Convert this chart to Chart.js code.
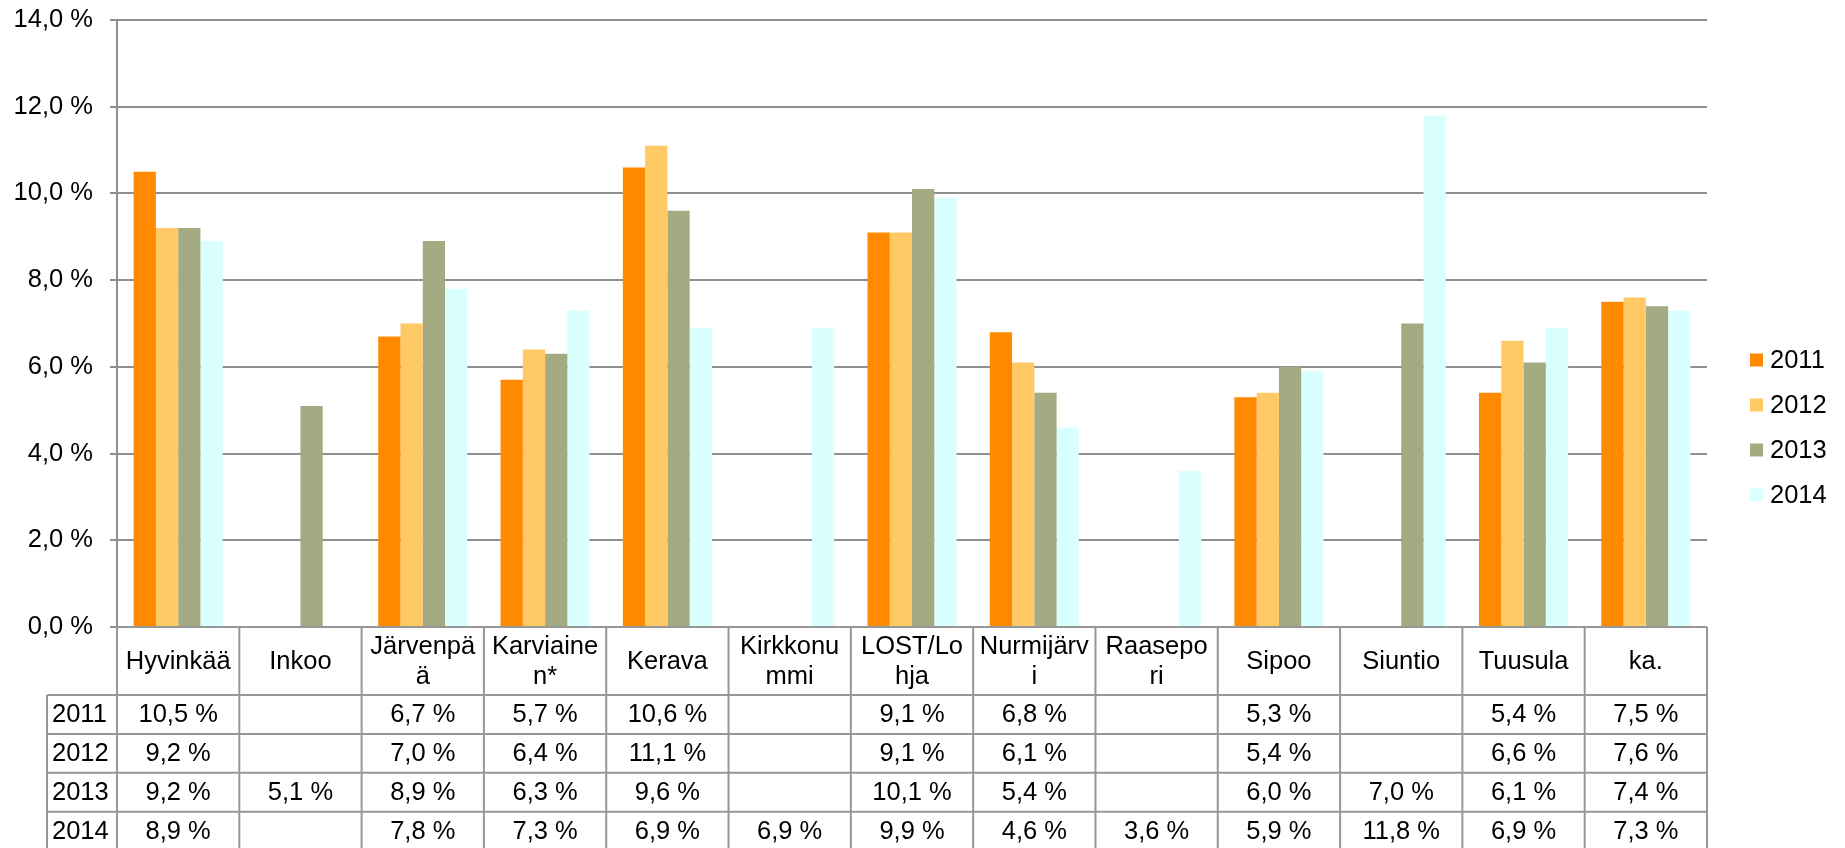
<!DOCTYPE html>
<html>
<head>
<meta charset="utf-8">
<script src="https://cdn.jsdelivr.net/npm/chart.js@4"></script>
<style>
html,body{margin:0;padding:0;background:#fff;}
#c{display:block;}
</style>
</head>
<body>
<canvas id="c" width="1845" height="848"></canvas>
<script>
const categories = ['Hyvinkää','Inkoo','Järvenpää','Karviainen*','Kerava','Kirkkonummi','LOST/Lohja','Nurmijärvi','Raasepori','Sipoo','Siuntio','Tuusula','ka.'];
const years = ['2011','2012','2013','2014'];
const values2011 = [10.5, null, 6.7, 5.7, 10.6, null, 9.1, 6.8, null, 5.3, null, 5.4, 7.5];
const values2012 = [9.2, null, 7.0, 6.4, 11.1, null, 9.1, 6.1, null, 5.4, null, 6.6, 7.6];
const values2013 = [9.2, 5.1, 8.9, 6.3, 9.6, null, 10.1, 5.4, null, 6.0, 7.0, 6.1, 7.4];
const values2014 = [8.9, null, 7.8, 7.3, 6.9, 6.9, 9.9, 4.6, 3.6, 5.9, 11.8, 6.9, 7.3];
const seriesColors = ['#FF8A00', '#FFCA66', '#A4AA82', '#D9FFFF'];

const FONT_SIZE = 25.5;
const FONT = FONT_SIZE + 'px "Liberation Sans", Arial, sans-serif';
const GRID = '#8f8f8f';
const TABLE_LINE = '#979797';

function fmt(v) { return v.toFixed(1).replace('.', ',') + ' %'; }

function wrapChars(ctx, text, maxW) {
  const lines = [];
  let cur = '';
  for (const ch of text) {
    if (cur && ctx.measureText(cur + ch).width > maxW) { lines.push(cur); cur = ch; }
    else cur += ch;
  }
  if (cur) lines.push(cur);
  return lines;
}

const tablePlugin = {
  id: 'dataTable',
  afterDraw(chart) {
    const ctx = chart.ctx;
    const area = chart.chartArea;
    const xs = chart.scales.x;
    const n = categories.length;
    const colW = area.width / n;
    const top = area.bottom;
    const headerH = 68;
    const rowH = 38.9;
    const tableLeft = 47;
    const right = area.right;
    const seriesVals = chart.data.datasets.map(d => d.data);
    const nRows = seriesVals.length;
    const bottom = top + headerH + rowH * nRows;

    ctx.save();
    ctx.strokeStyle = TABLE_LINE;
    ctx.lineWidth = 2;
    ctx.beginPath();
    ctx.moveTo(area.left, top); ctx.lineTo(right, top);
    for (let r = 0; r <= nRows; r++) {
      const y = top + headerH + r * rowH;
      ctx.moveTo(tableLeft, y); ctx.lineTo(right, y);
    }
    for (let i = 0; i <= n; i++) {
      const x = area.left + i * colW;
      ctx.moveTo(x, top); ctx.lineTo(x, bottom);
    }
    ctx.moveTo(tableLeft, top + headerH); ctx.lineTo(tableLeft, bottom);
    ctx.stroke();

    ctx.fillStyle = '#000';
    ctx.font = FONT;
    ctx.textBaseline = 'middle';
    ctx.textAlign = 'center';
    for (let i = 0; i < n; i++) {
      const cx = xs.getPixelForValue(i);
      const lines = wrapChars(ctx, categories[i], FONT_SIZE * 4.3);
      const lh = 30;
      const cy = top + headerH / 2 + 1;
      lines.forEach((ln, k) => {
        ctx.fillText(ln, cx, cy + (k - (lines.length - 1) / 2) * lh);
      });
    }
    for (let r = 0; r < nRows; r++) {
      const cy = top + headerH + r * rowH + rowH / 2 + 1;
      ctx.textAlign = 'left';
      ctx.fillText(chart.data.datasets[r].label, tableLeft + 5, cy);
      ctx.textAlign = 'center';
      for (let i = 0; i < n; i++) {
        const v = seriesVals[r][i];
        if (v === null || v === undefined) continue;
        ctx.fillText(fmt(v), xs.getPixelForValue(i), cy);
      }
    }
    const lx = 1750, ly0 = 360, lstep = 45;
    chart.data.datasets.forEach((d, k) => {
      const y = ly0 + k * lstep;
      ctx.fillStyle = d.backgroundColor;
      ctx.fillRect(lx, y - 6.5, 13, 13);
      ctx.fillStyle = '#000';
      ctx.textAlign = 'left';
      ctx.fillText(d.label, lx + 20, y + 1);
    });
    ctx.restore();
  }
};

const seriesData = [values2011, values2012, values2013, values2014];

new Chart(document.getElementById('c'), {
  type: 'bar',
  data: {
    labels: categories,
    datasets: years.map((y, k) => ({
      label: y,
      data: seriesData[k],
      backgroundColor: seriesColors[k],
      borderWidth: 0,
      categoryPercentage: 0.728,
      barPercentage: 1.0
    }))
  },
  options: {
    responsive: false,
    devicePixelRatio: 1,
    animation: false,
    layout: { padding: { left: 0, top: 20, right: 138, bottom: 0 } },
    plugins: { legend: { display: false }, tooltip: { enabled: false } },
    scales: {
      x: {
        grid: { display: false },
        border: { display: false },
        ticks: { display: false },
        afterFit(scale) { scale.height = 221; }
      },
      y: {
        min: 0, max: 14,
        ticks: {
          stepSize: 2,
          padding: 17,
          color: '#000',
          font: { family: '"Liberation Sans", Arial, sans-serif', size: FONT_SIZE, lineHeight: 0.2 },
          callback: v => fmt(v)
        },
        grid: { color: GRID, lineWidth: 2, tickLength: 7, tickColor: GRID },
        border: { display: true, color: GRID, width: 2 },
        afterFit(scale) { scale.width = 117; }
      }
    }
  },
  plugins: [tablePlugin]
});
</script>
</body>
</html>
